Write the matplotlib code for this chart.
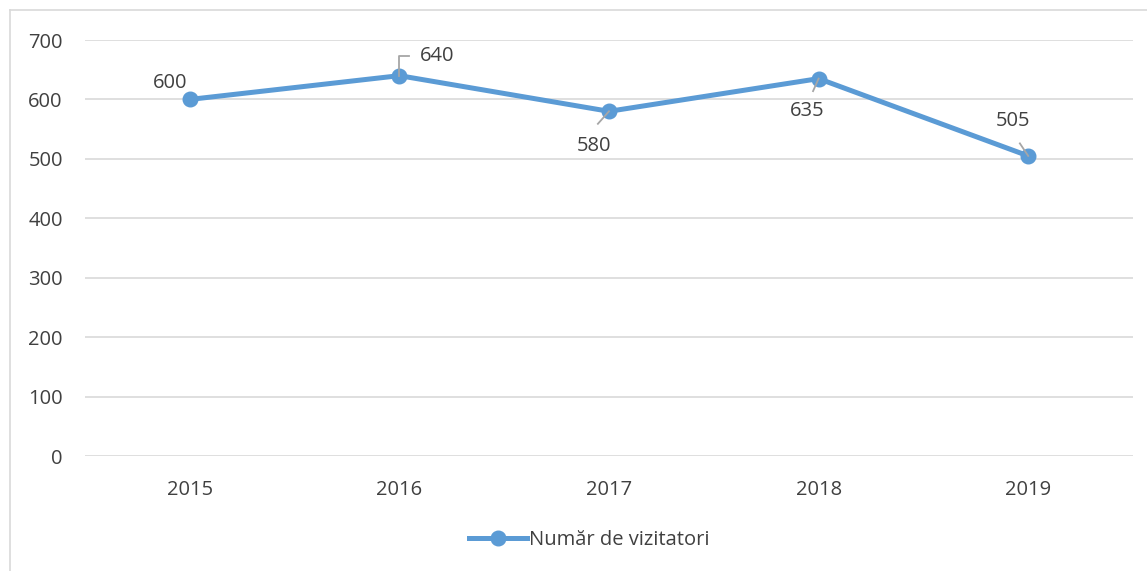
import matplotlib
matplotlib.use("Agg")
import matplotlib.pyplot as plt
from matplotlib.lines import Line2D
from matplotlib.transforms import Affine2D

years = ["2015", "2016", "2017", "2018", "2019"]
visitors = [600, 640, 580, 635, 505]
series_name = "Număr de vizitatori"
yticks = [0, 100, 200, 300, 400, 500, 600, 700]

plt.rcParams['font.family'] = ['Open Sans', 'DejaVu Sans']
color = "#5B9BD5"
txt = "#404040"
fs = 14.5

fig = plt.figure(figsize=(11.47, 5.71), dpi=100)
W, H = 1147, 571
ax = fig.add_axes([85/W, 1-456/H, 1048/W, 416/H])

x = list(range(len(years)))
ax.plot(x, visitors, color=color, lw=3.6, marker="o", ms=10.5, solid_capstyle="round", zorder=3)
ax.set_xlim(-0.5, len(years)-0.5)
ax.set_ylim(0, 700)
ax.set_yticks(yticks)
ax.set_xticks(x)
ax.set_xticklabels(years)
ax.grid(axis="y", color="#D9D9D9", lw=1.2)
ax.set_axisbelow(True)
for s in ax.spines.values():
    s.set_visible(False)
ax.tick_params(axis="both", length=0, labelsize=fs, colors=txt)
ax.tick_params(axis="y", pad=16)
ax.tick_params(axis="x", pad=17)

# data labels (offsets in points)
offsets = [(-14, 12), (27, 14), (-11, -25), (-8, -23), (-11, 25)]
for xi, v, (dx, dy) in zip(x, visitors, offsets):
    ax.annotate(str(v), (xi, v), xytext=(dx, dy), textcoords="offset points",
                ha="center", va="center", fontsize=fs, color=txt, zorder=4)

lc = "#A6A6A6"
fig.canvas.draw()
def seg(xi, v, pts):
    off = ax.transData.transform((xi, v))
    xs = [p[0] / 72 for p in pts]
    ys = [p[1] / 72 for p in pts]
    l = Line2D(xs, ys, color=lc, lw=1.3, zorder=2,
               transform=fig.dpi_scale_trans + Affine2D().translate(off[0], off[1]))
    fig.add_artist(l)

seg(1, 640, [(0, 0), (0, 14), (7, 14)])
seg(2, 580, [(0, 0), (-8, -9)])
seg(3, 635, [(0, 0), (-4, -9)])
seg(4, 505, [(0, 0), (-6, 9)])

# legend
h = Line2D([], [], color=color, lw=3.6, marker="o", ms=10.5)
fig.legend([h], [series_name], loc="center", bbox_to_anchor=(589/W, 1-540/H),
           frameon=False, fontsize=fs, labelcolor=txt, handlelength=2.9, handletextpad=0.1)

# outer border (top and left visible)
fig.add_artist(Line2D([10/W, 10/W], [0, 1-10/H], color="#D9D9D9", lw=1.2))
fig.add_artist(Line2D([10/W, 1], [1-10/H, 1-10/H], color="#D9D9D9", lw=1.2))

fig.savefig("out.png", dpi=100)
